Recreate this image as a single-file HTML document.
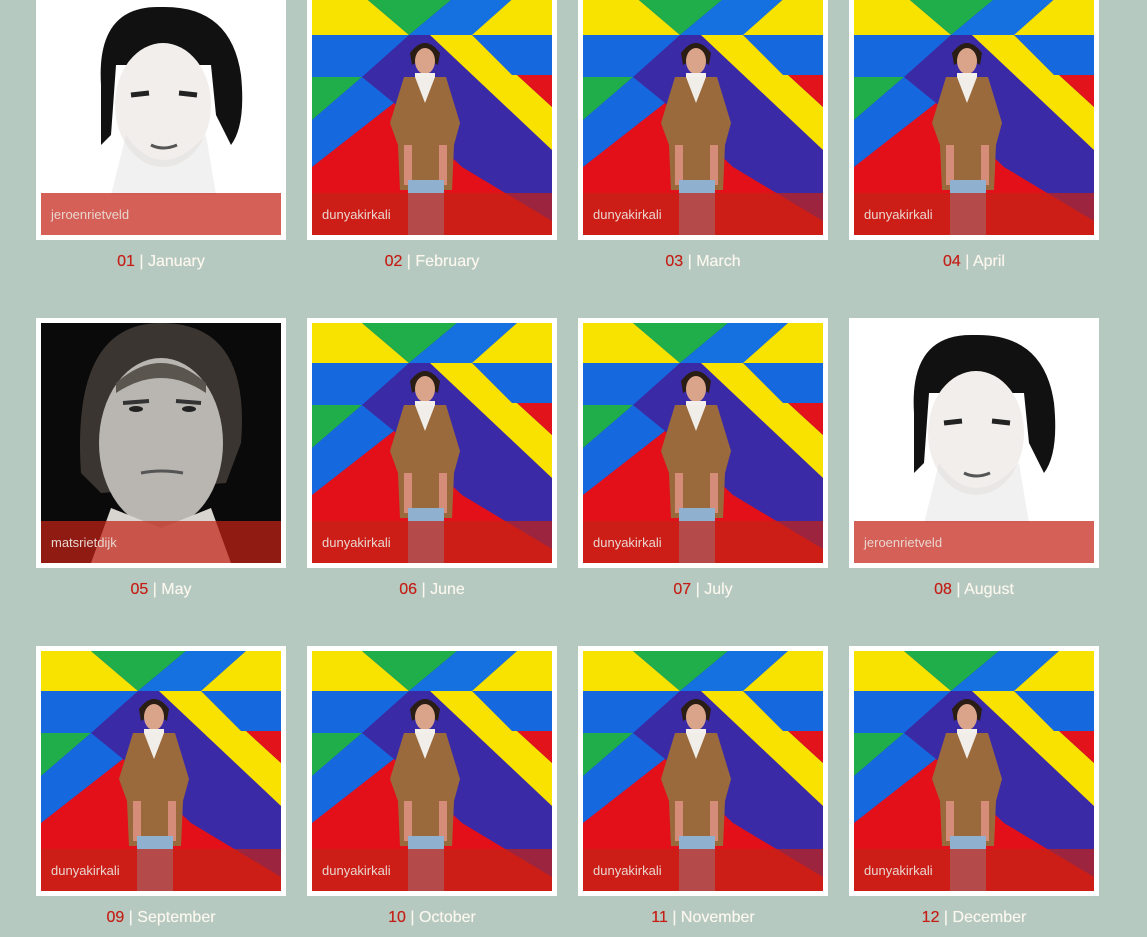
<!DOCTYPE html>
<html><head><meta charset="utf-8">
<style>
html,body{margin:0;padding:0;width:1147px;height:937px;overflow:hidden;background:#b6c9c0;font-family:"Liberation Sans",sans-serif;}
.card{position:absolute;width:240px;height:240px;border:5px solid #fff;background:#fff;overflow:hidden;}
.card svg{position:absolute;left:0;top:0;}
.band{position:absolute;left:0;top:198px;width:240px;height:42px;background:rgba(196,34,22,0.72);}
.band span{position:absolute;left:10px;top:14px;font-size:13px;color:#e9d6cf;}
.label{position:absolute;width:250px;text-align:center;font-size:16px;color:#fbf7ee;text-shadow:0 0 0.4px #fbf7ee;}
.label .n{color:#c41f17;text-shadow:0 0 0.4px #c41f17;}
</style></head><body>
<div id="grid"></div>
<script>
const months=["January","February","March","April","May","June","July","August","September","October","November","December"];
const users=["jeroenrietveld","dunyakirkali","dunyakirkali","dunyakirkali","matsrietdijk","dunyakirkali","dunyakirkali","jeroenrietveld","dunyakirkali","dunyakirkali","dunyakirkali","dunyakirkali"];
const colX=[36,307,578,849];
const rowY=[-10,318,646];
function colorful(){return `<svg width="240" height="240" viewBox="0 0 240 240">
<rect width="240" height="240" fill="#3b2aa6"/>
<polygon points="0,0 50,0 97,40 0,40" fill="#f8e300"/>
<polygon points="50,0 145,0 97,40" fill="#1fae4a"/>
<polygon points="145,0 205,0 160,40 97,40" fill="#1570e0"/>
<polygon points="205,0 240,0 240,40 160,40" fill="#f8e300"/>
<polygon points="0,40 97,40 50,82 0,82" fill="#1668de"/>
<polygon points="160,40 240,40 240,80 200,80" fill="#1668de"/>
<polygon points="118,40 160,40 200,80 205,80 240,112 240,155" fill="#f9e200"/>
<polygon points="205,80 240,80 240,112" fill="#e3131c"/>
<polygon points="0,82 50,82 0,125" fill="#1fae4a"/>
<polygon points="0,125 50,82 82,108 0,172" fill="#1668de"/>
<polygon points="0,172 82,108 150,172 240,226 240,240 0,240" fill="#e3101a"/>
<path d="M98 58 Q113 38 128 58 L126 70 Q113 62 100 70Z" fill="#2a1d14"/>
<ellipse cx="113" cy="66" rx="10" ry="13" fill="#d9a48a"/>
<rect x="103" y="78" width="20" height="40" fill="#f3f0ec"/>
<path d="M92 82 L134 82 L148 128 L142 150 L140 195 L88 195 L86 150 L78 128Z" fill="#9a6a3d"/>
<path d="M103 82 L113 108 L123 82Z" fill="#f1ede8"/>
<rect x="92" y="150" width="8" height="40" fill="#d58c78"/>
<rect x="127" y="150" width="8" height="40" fill="#d58c78"/>
<rect x="96" y="185" width="36" height="55" fill="#8fb0cf"/>
</svg>`;}
function jeroen(){return `<svg width="240" height="240" viewBox="0 0 240 240">
<rect width="240" height="240" fill="#fff"/>
<path d="M60 90 Q55 10 120 12 Q190 10 200 80 Q205 130 190 150 L175 120 L170 70 L75 70 L70 140 L60 150Z" fill="#111"/>
<ellipse cx="122" cy="110" rx="48" ry="62" fill="#f2eeec"/>
<path d="M90 100 L108 98 M138 98 L156 100" stroke="#222" stroke-width="5"/>
<path d="M110 150 Q122 156 136 150" stroke="#555" stroke-width="3" fill="none"/>
<path d="M85 140 Q120 190 165 140 L175 200 L70 200Z" fill="#ddd" opacity="0.4"/>
</svg>`;}
function mats(){return `<svg width="240" height="240" viewBox="0 0 240 240">
<rect width="240" height="240" fill="#0a0a0a"/>
<path d="M40 150 Q30 0 120 0 Q210 0 200 120 L185 160 L60 170Z" fill="#3a3530"/>
<ellipse cx="120" cy="120" rx="62" ry="85" fill="#b9b6b2"/>
<path d="M75 70 Q120 40 165 70 L165 60 Q120 20 75 60Z" fill="#5a554f"/>
<path d="M82 80 L108 78 M135 78 L160 80" stroke="#333" stroke-width="4"/>
<ellipse cx="95" cy="86" rx="7" ry="3" fill="#222"/><ellipse cx="148" cy="86" rx="7" ry="3" fill="#222"/>
<path d="M100 150 Q120 146 142 150" stroke="#555" stroke-width="3" fill="none"/>
<path d="M50 240 L70 185 L120 205 L170 185 L190 240Z" fill="#d8d4d0"/>
</svg>`;}
const grid=document.getElementById('grid');
for(let i=0;i<12;i++){
  const x=colX[i%4], y=rowY[Math.floor(i/4)];
  const c=document.createElement('div');
  c.className='card';c.style.left=x+'px';c.style.top=y+'px';
  
  
  const u=users[i];
  c.innerHTML=(u==='jeroenrietveld'?jeroen():u==='matsrietdijk'?mats():colorful())+'<div class="band"><span>'+u+'</span></div>';
  grid.appendChild(c);
  const l=document.createElement('div');
  l.className='label';l.style.left=x+'px';l.style.top=(y+263)+'px';
  
  
  l.innerHTML='<span class="n">'+String(i+1).padStart(2,'0')+'</span> | '+months[i];
  grid.appendChild(l);
}
</script>
</body></html>
